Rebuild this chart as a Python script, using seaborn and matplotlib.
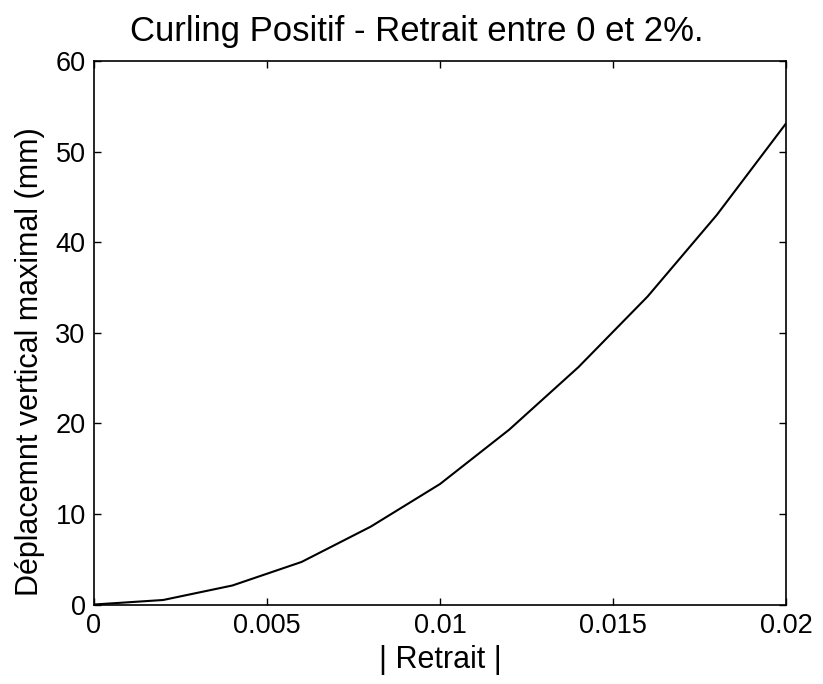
import numpy as np
import pandas as pd
import matplotlib
matplotlib.use("Agg")
import matplotlib.pyplot as plt
import seaborn as sns

# values (nodes every 0.002)
retrait = [0.0, 0.002, 0.004, 0.006, 0.008, 0.010, 0.012, 0.014, 0.016, 0.018, 0.020]
deplacement = [0.0, 0.5, 2.1, 4.7, 8.6, 13.3, 19.3, 26.2, 34.0, 43.0, 53.1]

xticks = [0, 0.005, 0.01, 0.015, 0.02]
xticklabels = ["0", "0.005", "0.01", "0.015", "0.02"]
yticks = [0, 10, 20, 30, 40, 50, 60]

sns.set_style("ticks")
plt.rcParams['font.family'] = ['Liberation Sans', 'DejaVu Sans']
plt.rcParams['text.color'] = 'black'
plt.rcParams['axes.labelcolor'] = 'black'

df = pd.DataFrame({'retrait': retrait, 'deplacement': deplacement})

fig = plt.figure(figsize=(8.23, 6.84), dpi=100)
ax = fig.add_axes([0.1142, 0.1162, 0.955 - 0.1142, 0.9108 - 0.1162])

sns.lineplot(data=df, x='retrait', y='deplacement', color='black', lw=1.5, ax=ax)

ax.set_xlim(0, 0.02)
ax.set_ylim(0, 60)
ax.set_xticks(xticks)
ax.set_xticklabels(xticklabels)
ax.set_yticks(yticks)
ax.tick_params(direction='in', length=5, width=1, top=True, right=True,
               labelsize=19.5, pad=6, colors='black')
for s in ax.spines.values():
    s.set_visible(True)
    s.set_linewidth(1.2)
    s.set_color('black')

ax.set_title("Curling Positif - Retrait entre 0 et 2%.", fontsize=25,
             x=0.467, y=1.055, va='center', pad=0, color='black')
ax.set_xlabel("| Retrait |", fontsize=22)
ax.set_ylabel("Déplacemnt vertical maximal (mm)", fontsize=22)
ax.xaxis.set_label_coords(0.5, -0.102)
ax.yaxis.set_label_coords(-0.0925, 0.446)
ax.xaxis.label.set_va('center')
ax.yaxis.label.set_va('center')

fig.savefig("out.png", dpi=100, facecolor='white')
